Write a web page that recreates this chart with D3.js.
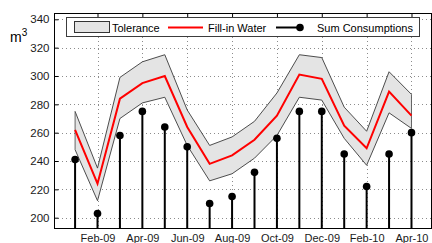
<!DOCTYPE html>
<html>
<head>
<meta charset="utf-8">
<script src="https://cdn.jsdelivr.net/npm/d3@7"></script>
<style>
  body { margin: 0; background: #fff; }
  svg { display: block; font-family: "Liberation Sans", Arial, sans-serif; }
</style>
</head>
<body>
<svg id="chart" width="432" height="243"></svg>
<script>
// month index 0 = Jan-09
const months = ["Jan-09", "Feb-09", "Mar-09", "Apr-09", "May-09", "Jun-09", "Jul-09", "Aug-09",
  "Sep-09", "Oct-09", "Nov-09", "Dec-09", "Jan-10", "Feb-10", "Mar-10", "Apr-10"];
const fillIn = [262, 224, 284, 295, 300, 264, 238, 244, 255, 272, 301, 298, 265, 249, 289, 272];
const tolUpper = [275, 235, 299, 310, 315, 276, 251, 257, 268, 288, 315, 313, 278, 261, 303, 287];
const tolLower = [248, 212, 270, 281, 285, 251, 226, 231, 242, 258, 285, 283, 256, 237, 274, 263];
const consumption = [241, 203, 258, 275, 264, 250, 210, 215, 232, 256, 275, 275, 245, 222, 245, 260];
const yTicks = [200, 220, 240, 260, 280, 300, 320, 340];
const xTickIdx = [1, 3, 5, 7, 9, 11, 13, 15];

const svg = d3.select("#chart");
const plotL = 54, plotR = 431, plotT = 13, plotB = 228;

const x = d3.scaleLinear().domain([-0.94, 15.87]).range([plotL, plotR]);
const y = d3.scaleLinear().domain([192.73, 344.45]).range([plotB, plotT]);

// grid
const grid = svg.append("g")
  .attr("stroke", "#8c8c8c")
  .attr("stroke-width", 1)
  .attr("stroke-dasharray", "1,3");
grid.selectAll("line.h").data(yTicks).join("line")
  .attr("class", "h")
  .attr("x1", plotL).attr("x2", plotR)
  .attr("y1", (d) => Math.round(y(d)) + 0.5).attr("y2", (d) => Math.round(y(d)) + 0.5);
grid.selectAll("line.v").data(xTickIdx).join("line")
  .attr("class", "v")
  .attr("y1", plotT).attr("y2", plotB)
  .attr("x1", (d) => Math.round(x(d)) + 0.5).attr("x2", (d) => Math.round(x(d)) + 0.5);

// tolerance band
const idx = d3.range(months.length);
const area = d3.area()
  .x((i) => x(i))
  .y0((i) => y(tolLower[i]))
  .y1((i) => y(tolUpper[i]));
svg.append("path")
  .datum(idx)
  .attr("d", area)
  .attr("fill", "#e4e4e4")
  .attr("stroke", "none");

const edge = (arr) => d3.line().x((i) => x(i)).y((i) => y(arr[i]));
[tolUpper, tolLower].forEach((arr) => {
  svg.append("path")
    .datum(idx)
    .attr("d", edge(arr))
    .attr("fill", "none")
    .attr("stroke", "#3a3a3a")
    .attr("stroke-width", 0.9);
});
[0, months.length - 1].forEach((i) => {
  svg.append("line")
    .attr("x1", x(i)).attr("x2", x(i))
    .attr("y1", y(tolUpper[i])).attr("y2", y(tolLower[i]))
    .attr("stroke", "#555").attr("stroke-width", 0.9);
});

// fill-in water
svg.append("path")
  .datum(idx)
  .attr("d", edge(fillIn))
  .attr("fill", "none")
  .attr("stroke", "#ff0000")
  .attr("stroke-width", 2);

// stems
const stems = svg.append("g");
stems.selectAll("line").data(idx).join("line")
  .attr("x1", (i) => x(i)).attr("x2", (i) => x(i))
  .attr("y1", plotB).attr("y2", (i) => y(consumption[i]))
  .attr("stroke", "#000").attr("stroke-width", 2);
stems.selectAll("circle").data(idx).join("circle")
  .attr("cx", (i) => x(i)).attr("cy", (i) => y(consumption[i]))
  .attr("r", 3.8).attr("fill", "#000");

// axes box
svg.append("rect")
  .attr("x", plotL + 0.5).attr("y", plotT + 0.5)
  .attr("width", plotR - plotL).attr("height", plotB - plotT)
  .attr("fill", "none").attr("stroke", "#000");

const yAxis = svg.append("g")
  .attr("transform", `translate(${plotL + 0.5},0)`)
  .call(d3.axisRight(y).tickValues(yTicks).tickSize(4).tickFormat(d3.format("d")));
yAxis.select(".domain").remove();
yAxis.selectAll("text")
  .attr("x", -5).attr("text-anchor", "end")
  .attr("font-size", 11.5).attr("fill", "#1a1a1a")
  .attr("font-family", "Liberation Sans, Arial, sans-serif");

const xAxis = svg.append("g")
  .attr("transform", `translate(0,${plotB + 0.5})`)
  .call(d3.axisBottom(x).tickValues(xTickIdx).tickSize(0).tickFormat((i) => months[i]));
xAxis.select(".domain").remove();
xAxis.selectAll("text")
  .attr("y", 6).attr("font-size", 11).attr("fill", "#1a1a1a")
  .attr("font-family", "Liberation Sans, Arial, sans-serif");

const topAxis = svg.append("g")
  .attr("transform", `translate(0,${plotT + 0.5})`)
  .call(d3.axisBottom(x).tickValues(xTickIdx).tickSize(4).tickFormat(""));
topAxis.select(".domain").remove();

// unit label
const unit = svg.append("text")
  .attr("x", 10).attr("y", 42)
  .attr("font-size", 14).attr("fill", "#000");
unit.append("tspan").text("m");
unit.append("tspan").attr("dy", -6).attr("font-size", 10).text("3");

// legend
const lg = svg.append("g");
lg.append("rect")
  .attr("x", 66.5).attr("y", 17.5).attr("width", 353).attr("height", 19)
  .attr("fill", "#fff").attr("stroke", "#3c3c3c");
lg.append("rect")
  .attr("x", 74.5).attr("y", 21.5).attr("width", 35).attr("height", 11)
  .attr("fill", "#e4e4e4").attr("stroke", "#333");
lg.append("text").attr("x", 112).attr("y", 31.5).attr("font-size", 11).text("Tolerance");
lg.append("line")
  .attr("x1", 168).attr("x2", 203).attr("y1", 27.5).attr("y2", 27.5)
  .attr("stroke", "#ff0000").attr("stroke-width", 2);
lg.append("text").attr("x", 208).attr("y", 31.5).attr("font-size", 11).text("Fill-in Water");
lg.append("line")
  .attr("x1", 276).attr("x2", 300).attr("y1", 27.5).attr("y2", 27.5)
  .attr("stroke", "#000").attr("stroke-width", 2);
lg.append("circle").attr("cx", 300).attr("cy", 27.5).attr("r", 3.8).attr("fill", "#000");
lg.append("text").attr("x", 317).attr("y", 31.5).attr("font-size", 11).text("Sum Consumptions");
</script>
</body>
</html>
